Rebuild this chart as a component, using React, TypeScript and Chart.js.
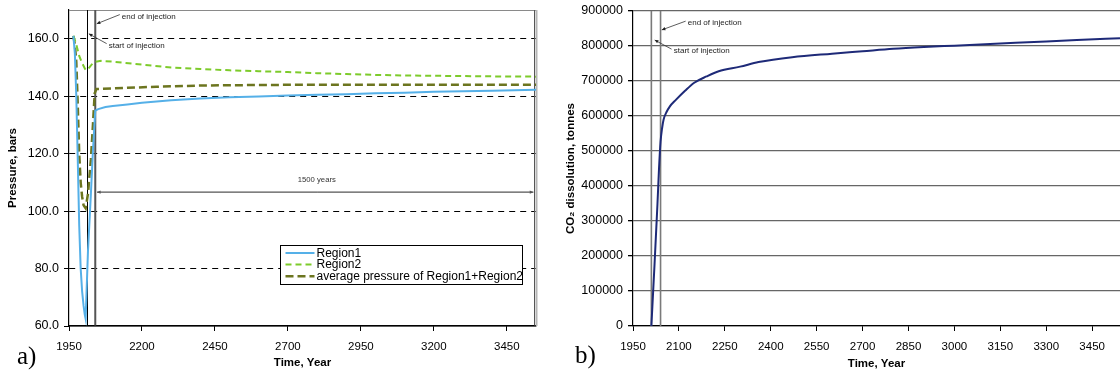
import React, { useEffect, useRef } from "react";
import { Chart, registerables } from "chart.js";
Chart.register(...registerables);

// ---- Data: panel a) pressure ----
const region1Years = [1965, 1970, 1975, 1980, 1985, 1990, 1995, 2000, 2004, 2007, 2015, 2025, 2032, 2040, 2050, 2075, 2100, 2150, 2200, 2300, 2400, 2500, 2600, 2700, 2800, 2900, 3000, 3100, 3200, 3300, 3400, 3550];
const region1Values = [161, 155, 140, 118, 95, 80, 72, 67, 64, 62.5, 86, 106, 121, 135, 135.5, 136.2, 136.6, 137.1, 137.7, 138.6, 139.2, 139.6, 139.9, 140.2, 140.5, 140.7, 141, 141.2, 141.5, 141.7, 141.9, 142.2];

const region2Years = [1965, 1975, 1985, 1995, 2005, 2010, 2020, 2030, 2040, 2060, 2100, 2200, 2300, 2400, 2500, 2600, 2700, 2800, 2900, 3000, 3100, 3200, 3300, 3400, 3550];
const region2Values = [161, 158, 154, 151.5, 149.5, 149, 150, 151.3, 152, 152.3, 152, 151, 150, 149.5, 149, 148.7, 148.4, 148, 147.7, 147.4, 147.2, 147.1, 147, 146.9, 146.8];

const avgYears = [1965, 1970, 1975, 1980, 1985, 1990, 1995, 2000, 2007, 2015, 2025, 2032, 2038, 2044, 2100, 2150, 2250, 2400, 2600, 2800, 3000, 3550];
const avgValues = [161, 158, 152, 137, 120, 110, 105, 102, 101, 106, 118, 130, 141, 142.5, 142.7, 142.9, 143.3, 143.7, 143.9, 144, 144, 144];

const pressureTicks = [60, 80, 100, 120, 140, 160];
const leftYearTicks = [1950, 2200, 2450, 2700, 2950, 3200, 3450];

// ---- Data: panel b) CO2 dissolution ----
const co2Years = [2010, 2020, 2030, 2035, 2040, 2045, 2050, 2060, 2070, 2090, 2120, 2150, 2190, 2230, 2300, 2360, 2470, 2600, 2700, 2800, 2900, 3000, 3100, 3200, 3300, 3400, 3541];
const co2Values = [0, 170000, 350000, 450000, 526000, 565000, 590000, 612000, 627000, 646000, 672000, 695000, 713000, 728000, 741000, 754000, 768000, 778000, 785000, 792000, 797000, 801000, 805000, 809000, 813000, 817000, 822000];

const co2Ticks = [0, 100000, 200000, 300000, 400000, 500000, 600000, 700000, 800000, 900000];
const rightYearTicks = [1950, 2100, 2250, 2400, 2550, 2700, 2850, 3000, 3150, 3300, 3450];

const injectionStart = 2010;
const injectionEnd = 2040;

const legendLabels = ["Region1", "Region2", "average pressure of Region1+Region2"];

const FAMILY = '"Liberation Sans", Arial, sans-serif';
const C_R1 = "#55B0E8";
const C_R2 = "#7DCB2B";
const C_AVG = "#6C751F";
const C_CO2 = "#1E2A78";

const pts = (xs: number[], ys: number[]) => xs.map((x, i) => ({ x, y: ys[i] }));

function arrow(ctx: CanvasRenderingContext2D, x1: number, y1: number, x2: number, y2: number, size: number) {
  ctx.beginPath();
  ctx.moveTo(x1, y1);
  ctx.lineTo(x2, y2);
  ctx.stroke();
  const a = Math.atan2(y2 - y1, x2 - x1);
  ctx.beginPath();
  ctx.moveTo(x2, y2);
  ctx.lineTo(x2 - size * Math.cos(a - 0.45), y2 - size * Math.sin(a - 0.45));
  ctx.lineTo(x2 - size * Math.cos(a + 0.45), y2 - size * Math.sin(a + 0.45));
  ctx.closePath();
  ctx.fill();
}

const leftPlugin = {
  id: "leftDecor",
  beforeDatasetsDraw(chart: any) {
    const { ctx, chartArea: a, scales } = chart;
    const x = scales.x;
    ctx.save();
    // frame: top and right
    ctx.strokeStyle = "#8a8a8a";
    ctx.lineWidth = 1;
    ctx.beginPath();
    ctx.moveTo(a.left, a.top + 0.5);
    ctx.lineTo(a.right, a.top + 0.5);
    ctx.stroke();
    ctx.strokeStyle = "#555";
    ctx.beginPath();
    ctx.moveTo(a.right - 1.5, a.top);
    ctx.lineTo(a.right - 1.5, a.bottom);
    ctx.stroke();
    ctx.strokeStyle = "#b5b5b5";
    ctx.lineWidth = 2;
    ctx.beginPath();
    ctx.moveTo(a.right + 0.5, a.top);
    ctx.lineTo(a.right + 0.5, a.bottom);
    ctx.stroke();
    // injection lines
    const xs = Math.round(x.getPixelForValue(injectionStart)) + 0.5;
    ctx.strokeStyle = "#000";
    ctx.lineWidth = 1;
    ctx.beginPath();
    ctx.moveTo(xs, a.top);
    ctx.lineTo(xs, a.bottom);
    ctx.stroke();
    const xe = x.getPixelForValue(injectionEnd);
    ctx.strokeStyle = "#555";
    ctx.lineWidth = 2;
    ctx.beginPath();
    ctx.moveTo(xe, a.top);
    ctx.lineTo(xe, a.bottom);
    ctx.stroke();
    ctx.restore();
  },
  afterDraw(chart: any) {
    const { ctx, chartArea: ca, scales } = chart;
    const x = scales.x;
    const y = scales.y;
    const px = (v: number) => x.getPixelForValue(v);
    const py = (v: number) => y.getPixelForValue(v);
    ctx.save();
    // solid bottom axis line
    ctx.strokeStyle = "#000";
    ctx.lineWidth = 1.2;
    ctx.beginPath();
    ctx.moveTo(ca.left, ca.bottom);
    ctx.lineTo(ca.right, ca.bottom);
    ctx.stroke();

    ctx.fillStyle = "#222";
    ctx.strokeStyle = "#333";
    ctx.lineWidth = 0.8;
    ctx.font = `8px ${FAMILY}`;
    ctx.textBaseline = "middle";
    ctx.textAlign = "left";
    ctx.fillText("end of injection", px(2131), py(167.7));
    arrow(ctx, px(2124), py(168.4), px(2045), py(165.2), 4);
    ctx.fillText("start of injection", px(2086), py(157.6));
    arrow(ctx, px(2079), py(158.3), px(2018), py(161.7), 4);

    // 1500 years double arrow
    ctx.strokeStyle = "#555";
    ctx.fillStyle = "#555";
    ctx.lineWidth = 1.3;
    const ay = py(106.6);
    arrow(ctx, px(2800), ay, px(2046), ay, 4);
    arrow(ctx, px(2800), ay, px(3541), ay, 4);
    ctx.fillStyle = "#333";
    ctx.font = `7.7px ${FAMILY}`;
    ctx.textAlign = "center";
    ctx.fillText("1500 years", px(2799), py(110.9));

    // legend
    const lx = Math.round(px(2673)) + 0.5;
    const ly = Math.round(py(88.2)) + 0.5;
    const lw = 242;
    const lh = 39;
    ctx.fillStyle = "#fff";
    ctx.fillRect(lx, ly, lw, lh);
    ctx.strokeStyle = "#000";
    ctx.lineWidth = 1;
    ctx.strokeRect(lx, ly, lw, lh);
    const colors = [C_R1, C_R2, C_AVG];
    const dashes = [[], [6, 4], [8, 4]];
    const widths = [2, 2, 2.5];
    ctx.font = `12px ${FAMILY}`;
    ctx.textAlign = "left";
    ctx.textBaseline = "middle";
    legendLabels.forEach((label, i) => {
      const ry = ly + 7.5 + i * 11.6;
      ctx.strokeStyle = colors[i];
      ctx.lineWidth = widths[i];
      ctx.setLineDash(dashes[i]);
      ctx.beginPath();
      ctx.moveTo(lx + 5, ry);
      ctx.lineTo(lx + 34, ry);
      ctx.stroke();
      ctx.setLineDash([]);
      ctx.fillStyle = "#000";
      ctx.fillText(label, lx + 36, ry + 0.5);
    });

    // panel label
    ctx.font = `25px "Liberation Serif", "Times New Roman", serif`;
    ctx.textBaseline = "alphabetic";
    ctx.fillStyle = "#000";
    ctx.fillText("a)", 17, 364);
    ctx.restore();
  },
};

const rightPlugin = {
  id: "rightDecor",
  beforeDatasetsDraw(chart: any) {
    const { ctx, chartArea: a, scales } = chart;
    const x = scales.x;
    ctx.save();
    ctx.strokeStyle = "#7a7a7a";
    ctx.lineWidth = 1.6;
    [injectionStart, injectionEnd].forEach((v) => {
      const xx = x.getPixelForValue(v);
      ctx.beginPath();
      ctx.moveTo(xx, a.top);
      ctx.lineTo(xx, a.bottom);
      ctx.stroke();
    });
    ctx.restore();
  },
  afterDraw(chart: any) {
    const { ctx, scales } = chart;
    const x = scales.x;
    const y = scales.y;
    const px = (v: number) => x.getPixelForValue(v);
    const py = (v: number) => y.getPixelForValue(v);
    ctx.save();
    ctx.fillStyle = "#222";
    ctx.strokeStyle = "#333";
    ctx.lineWidth = 0.8;
    ctx.font = `8px ${FAMILY}`;
    ctx.textBaseline = "middle";
    ctx.textAlign = "left";
    ctx.fillText("end of injection", px(2129), py(866000));
    arrow(ctx, px(2122), py(871000), px(2044), py(846000), 4);
    ctx.fillText("start of injection", px(2083), py(786000));
    arrow(ctx, px(2076), py(791000), px(2021), py(817000), 4);

    ctx.font = `25px "Liberation Serif", "Times New Roman", serif`;
    ctx.textBaseline = "alphabetic";
    ctx.fillStyle = "#000";
    ctx.fillText("b)", 30, 363);
    ctx.restore();
  },
};

function ticksFrom(values: number[]) {
  return (s: any) => {
    s.ticks = values.map((v) => ({ value: v }));
  };
}

function leftConfig(): any {
  return {
    type: "line",
    data: {
      datasets: [
        { label: legendLabels[0], data: pts(region1Years, region1Values), borderColor: C_R1, borderWidth: 2, pointRadius: 0, tension: 0 },
        { label: legendLabels[1], data: pts(region2Years, region2Values), borderColor: C_R2, borderWidth: 2, borderDash: [6, 4], pointRadius: 0, tension: 0 },
        { label: legendLabels[2], data: pts(avgYears, avgValues), borderColor: C_AVG, borderWidth: 2.5, borderDash: [8, 4], pointRadius: 0, tension: 0 },
      ],
    },
    options: {
      responsive: false,
      animation: false,
      events: [],
      layout: { padding: { top: 10, right: 9, left: 0, bottom: 0 } },
      plugins: { legend: { display: false }, tooltip: { enabled: false } },
      scales: {
        x: {
          type: "linear",
          min: 1950,
          max: 3550,
          afterBuildTicks: ticksFrom(leftYearTicks),
          afterFit: (s: any) => {
            s.height = 49;
            s.paddingLeft = 0;
            s.paddingRight = 0;
          },
          grid: { drawOnChartArea: false, drawTicks: true, tickLength: 5, color: "#000" },
          border: { display: true, color: "#000", width: 1.2 },
          ticks: { font: { family: FAMILY, size: 11.5 }, color: "#000", padding: 9, maxRotation: 0, autoSkip: false, callback: (v: any) => String(v) },
          title: { display: true, text: "Time, Year", color: "#000", font: { family: FAMILY, size: 11.5, weight: "bold" }, padding: { top: 0, bottom: 5 } },
        },
        y: {
          type: "linear",
          min: 60,
          max: 170,
          afterBuildTicks: ticksFrom(pressureTicks),
          afterFit: (s: any) => {
            s.width = 69;
            s.paddingTop = 0;
            s.paddingBottom = 0;
          },
          grid: {
            color: (c: any) => (c.tick && c.tick.value === 60 ? "rgba(0,0,0,0)" : "#000"),
            tickColor: "#000",
            lineWidth: 1,
            tickBorderDash: [],
            tickLength: 5,
          },
          border: { display: true, color: "#000", width: 1.2, dash: [6, 5] },
          ticks: { font: { family: FAMILY, size: 12.5 }, color: "#000", padding: 5, callback: (v: any) => Number(v).toFixed(1) },
          title: { display: true, text: "Pressure, bars", color: "#000", font: { family: FAMILY, size: 11.5, weight: "bold" }, padding: { top: 6, bottom: 0 } },
        },
      },
    },
    plugins: [leftPlugin],
  };
}

function rightConfig(): any {
  return {
    type: "line",
    data: {
      datasets: [
        { label: "CO2", data: pts(co2Years, co2Values), borderColor: C_CO2, borderWidth: 2, pointRadius: 0, cubicInterpolationMode: "monotone" },
      ],
    },
    options: {
      responsive: false,
      animation: false,
      events: [],
      layout: { padding: { top: 11, right: 0, left: 0, bottom: 0 } },
      plugins: { legend: { display: false }, tooltip: { enabled: false } },
      scales: {
        x: {
          type: "linear",
          min: 1950,
          max: 3541,
          afterBuildTicks: ticksFrom(rightYearTicks),
          afterFit: (s: any) => {
            s.height = 49;
            s.paddingLeft = 0;
            s.paddingRight = 0;
          },
          grid: { drawOnChartArea: false, drawTicks: true, tickLength: 5, color: "#000" },
          border: { display: true, color: "#000", width: 1.2 },
          ticks: { font: { family: FAMILY, size: 11.5 }, color: "#000", padding: 9, maxRotation: 0, autoSkip: false, callback: (v: any) => String(v) },
          title: { display: true, text: "Time, Year", color: "#000", font: { family: FAMILY, size: 11.5, weight: "bold" }, padding: { top: 0, bottom: 4 } },
        },
        y: {
          type: "linear",
          min: 0,
          max: 900000,
          afterBuildTicks: ticksFrom(co2Ticks),
          afterFit: (s: any) => {
            s.width = 88;
            s.paddingTop = 0;
            s.paddingBottom = 0;
          },
          grid: { color: "#666", lineWidth: 1.3, tickLength: 5, tickColor: "#000" },
          border: { display: true, color: "#000", width: 1.2 },
          ticks: { font: { family: FAMILY, size: 12.5 }, color: "#000", padding: 5, callback: (v: any) => String(v) },
          title: { display: true, text: "CO₂ dissolution, tonnes", color: "#000", font: { family: FAMILY, size: 11.5, weight: "bold" }, padding: { top: 18.8, bottom: 0 } },
        },
      },
    },
    plugins: [rightPlugin],
  };
}

export default function App() {
  const leftRef = useRef<HTMLCanvasElement>(null);
  const rightRef = useRef<HTMLCanvasElement>(null);
  useEffect(() => {
    const c1 = new Chart(leftRef.current as HTMLCanvasElement, leftConfig());
    const c2 = new Chart(rightRef.current as HTMLCanvasElement, rightConfig());
    return () => {
      c1.destroy();
      c2.destroy();
    };
  }, []);
  return (
    <div style={{ position: "absolute", left: 0, top: 0, width: 1120, height: 375, background: "#fff", overflow: "hidden" }}>
      <canvas ref={leftRef} width={545} height={375} style={{ position: "absolute", left: 0, top: 0 }} />
      <canvas ref={rightRef} width={575} height={375} style={{ position: "absolute", left: 545, top: 0 }} />
    </div>
  );
}
